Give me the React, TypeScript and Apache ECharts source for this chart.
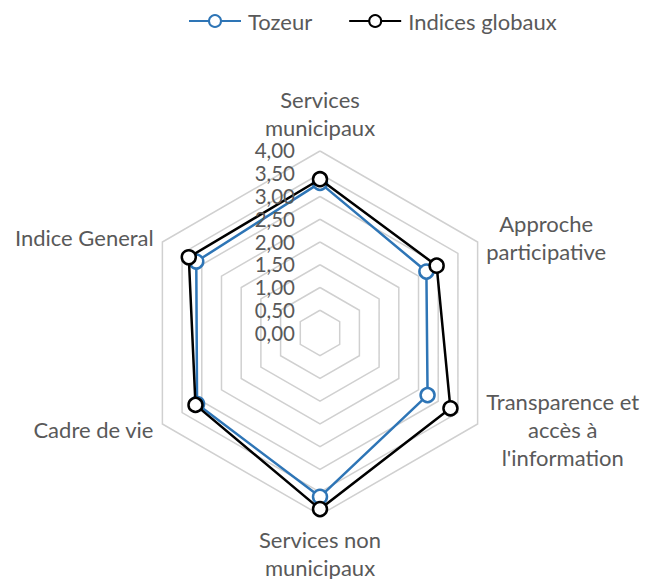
import React, { useEffect, useRef } from "react";
import * as echarts from "echarts";

const categories = [
  "Services\nmunicipaux",
  "Approche\nparticipative",
  "Transparence et\naccès à\nl'information",
  "Services non\nmunicipaux",
  "Cadre de vie",
  "Indice General",
];
const tozeur = [3.3, 2.7, 2.73, 3.6, 3.12, 3.14];
const globaux = [3.38, 2.96, 3.31, 3.87, 3.16, 3.33];
const seriesNames = ["Tozeur", "Indices globaux"];
const axisMax = 4;
const axisStep = 0.5;

const FONT = "Lato";
const FS = 22;
const TEXT = "#595959";
const BLUE = "#2E75B6";

// ECharts places indicators counter-clockwise; the reference goes clockwise.
const order = [0, 5, 4, 3, 2, 1];

export default function App() {
  const ref = useRef<HTMLDivElement>(null);
  useEffect(() => {
    if (!ref.current) return;
    const chart = echarts.init(ref.current, null, { renderer: "svg" });
    const indicator = order.map((i) => ({ name: categories[i], max: axisMax, min: 0 }));
    chart.setOption({
      animation: false,
      textStyle: { fontFamily: FONT },
      legend: {
        left: 183,
        top: 5,
        itemWidth: 52,
        itemHeight: 15,
        itemGap: 36,
        textStyle: { fontSize: FS, color: TEXT, fontFamily: FONT, padding: [0, 0, 0, 2] },
        data: seriesNames,
      },
      grid: { left: 320, top: 150, height: 183, width: 10, containLabel: false },
      xAxis: { type: "value", show: false },
      yAxis: {
        type: "value",
        min: 0,
        max: axisMax,
        interval: axisStep,
        z: 10,
        axisLine: { show: false },
        axisTick: { show: false },
        splitLine: { show: false },
        axisLabel: {
          margin: 25,
          fontSize: 20.5,
          lineHeight: 18,
          color: TEXT,
          fontFamily: FONT,
          formatter: (v: number) => v.toFixed(2).replace(".", ","),
        },
      },
      radar: {
        center: [320, 333],
        radius: 182,
        startAngle: 90,
        splitNumber: 8,
        indicator,
        axisLine: { show: false },
        axisTick: { show: false },
        splitArea: { show: false },
        splitLine: { lineStyle: { color: "#D0D0D0", width: 1.5 } },
        axisName: {
          color: TEXT,
          fontSize: FS,
          fontFamily: FONT,
          formatter: (name: string) =>
            name
              .split("\n")
              .map((l) => `{c|${l}}`)
              .join("\n"),
          rich: {
            c: { align: "center", fontSize: FS, lineHeight: 28, color: TEXT, fontFamily: FONT },
          },
        },
        nameGap: 10,
      },
      series: [
        {
          name: seriesNames[0],
          type: "line",
          data: [],
          symbol: "emptyCircle",
          color: BLUE,
          lineStyle: { width: 2.5, color: BLUE },
          itemStyle: { color: BLUE },
        },
        {
          name: seriesNames[1],
          type: "line",
          data: [],
          symbol: "emptyCircle",
          color: "#000",
          lineStyle: { width: 2.5, color: "#000" },
          itemStyle: { color: "#000" },
        },
        {
          name: seriesNames[0],
          type: "radar",
          z: 3,
          symbol: "circle",
          symbolSize: 14,
          lineStyle: { width: 2.5, color: BLUE },
          itemStyle: { color: "#fff", borderColor: BLUE, borderWidth: 2.5 },
          data: [{ name: seriesNames[0], value: order.map((i) => tozeur[i]) }],
        },
        {
          name: seriesNames[1],
          type: "radar",
          z: 4,
          symbol: "circle",
          symbolSize: 14,
          lineStyle: { width: 2.5, color: "#000" },
          itemStyle: { color: "#fff", borderColor: "#000", borderWidth: 2.5 },
          data: [{ name: seriesNames[1], value: order.map((i) => globaux[i]) }],
        },
      ],
    });
    return () => chart.dispose();
  }, []);
  return (
    <div
      ref={ref}
      style={{ position: "absolute", left: 0, top: 0, width: 661, height: 579 }}
    />
  );
}
